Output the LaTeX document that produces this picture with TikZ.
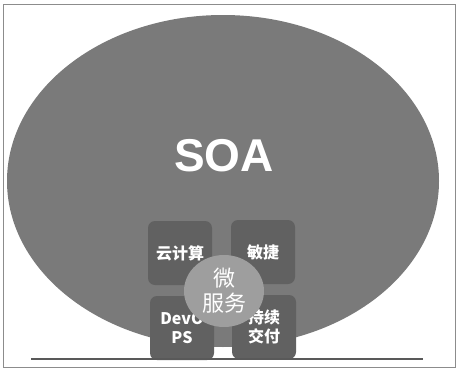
\documentclass[tikz,border=0pt]{standalone}
\usepackage{fontspec}
\usetikzlibrary{shapes.geometric}
\setmainfont{Liberation Sans}
\newfontfamily\cjk{Noto Sans CJK SC}
\begin{document}
\begin{tikzpicture}[x=1pt,y=-1pt,
  frame/.style={draw=black!45,line width=0.8pt},
  field/.style={fill=black!52},
  tile/.style={fill=black!62,draw=none,rounded corners=7pt,minimum width=64pt,minimum height=64pt,
    text=white,font=\cjk\bfseries\fontsize{16}{19}\selectfont,align=center,inner sep=0pt},
  core/.style={ellipse,fill=black!38,draw=none,minimum width=80pt,minimum height=72pt,
    text=white,font=\cjk\fontsize{22}{25}\selectfont,align=center,inner sep=0pt},
  ground/.style={draw=black!65,line width=1.2pt}]
% canvas and outer frame
\fill[white] (0,0) rectangle (458,372);
\useasboundingbox (0,0) rectangle (458,372);
\draw[frame] (3,4) rectangle (455,367);
% large SOA field
\fill[field] (223,181) ellipse [x radius=216, y radius=166];
\node (soa) at (224,156) {\fontsize{46}{50}\selectfont\bfseries\color{white}SOA};
% four practice tiles
\node[tile] (cloud) at (180,253) {云计算};
\node[tile] (agile) at (263,252) {敏捷};
\node[tile] (devops) at (182,328) {DevO\\PS};
\node[tile] (cd) at (264,327) {持续\\交付};
% microservices core on top
\node[core] (micro) at (224,291) {微\\服务};
% ground line
\coordinate (gl) at (31,359);
\coordinate (gr) at (423,359);
\draw[ground] (gl) -- (gr);
\end{tikzpicture}
\end{document}
